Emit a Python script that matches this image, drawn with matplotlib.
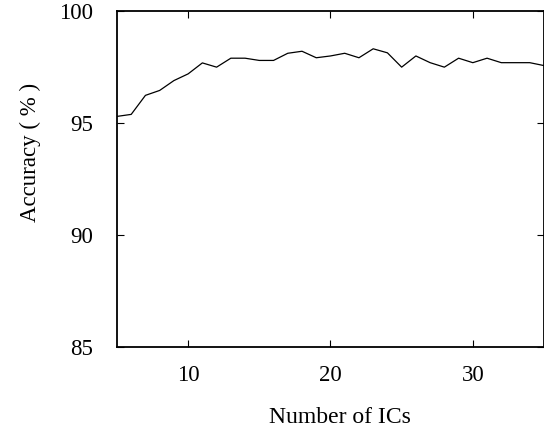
import matplotlib
matplotlib.use("Agg")
import matplotlib.pyplot as plt

# number of independent components and the accuracy reached with them
n_ics = list(range(5, 36))
accuracy = [95.30, 95.39, 96.24, 96.46, 96.90, 97.20, 97.69, 97.50, 97.90, 97.90,
            97.80, 97.80, 98.12, 98.21, 97.92, 98.00, 98.12, 97.92, 98.32, 98.14,
            97.50, 98.00, 97.70, 97.50, 97.90, 97.70, 97.90, 97.70, 97.70, 97.70,
            97.57]

x_ticks = [10, 20, 30]
y_ticks = [85, 90, 95, 100]

plt.rcParams['font.family'] = ['Liberation Serif', 'DejaVu Serif']

fig = plt.figure(figsize=(5.44, 4.30), dpi=100)
ax = fig.add_axes([0.215, 0.193, 0.785, 0.781])

ax.plot(n_ics, accuracy, color='black', linewidth=0.9)

ax.set_xlim(5, 35)
ax.set_ylim(85, 100)
ax.set_xticks(x_ticks)
ax.set_yticks(y_ticks)
ax.tick_params(direction='in', length=5, width=0.8, top=True, right=True,
               labelsize=16.5)
ax.tick_params(axis='y', pad=17)
ax.tick_params(axis='x', pad=13)
for s in ax.spines.values():
    s.set_linewidth(1.3)

ax.set_xlabel('Number of ICs', fontsize=17)
ax.set_ylabel('Accuracy ( % )', fontsize=16.5)
ax.xaxis.set_label_coords(0.522, -0.179)
ax.yaxis.set_label_coords(-0.178, 0.58)

fig.savefig('out.png', dpi=100)
